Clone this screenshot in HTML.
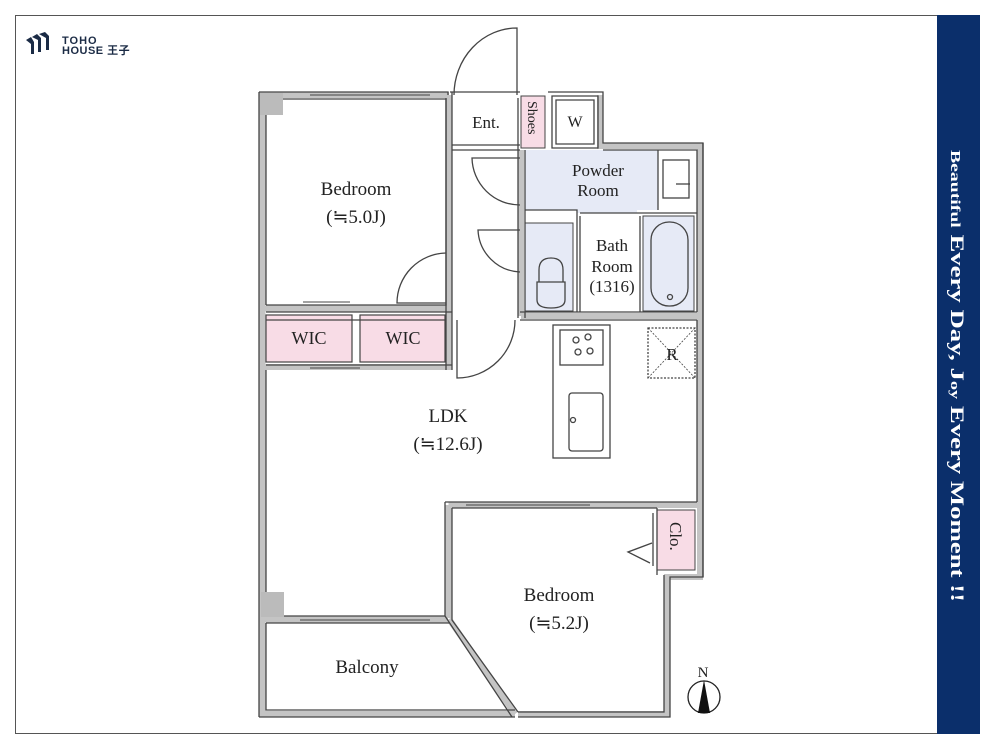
<!DOCTYPE html>
<html><head><meta charset="utf-8"><style>
html,body{margin:0;padding:0;background:#fff;}
svg{display:block}
text{font-family:"Liberation Serif",serif;fill:#222}
</style></head><body>
<svg width="1000" height="750" viewBox="0 0 1000 750" xmlns="http://www.w3.org/2000/svg">
<rect x="0" y="0" width="1000" height="750" fill="#fff"/>
<rect x="15.5" y="15.5" width="922" height="718" fill="none" stroke="#555" stroke-width="1"/>
<rect x="937" y="15" width="43" height="719" fill="#0b2f6b"/>
<text transform="translate(951,150) rotate(90)" textLength="452" lengthAdjust="spacingAndGlyphs" style="fill:#fff;font-weight:bold;font-size:19px"><tspan font-size="14">Beautiful</tspan>  Every Day, J<tspan font-size="13">oy</tspan> Every Moment !!</text>
<!-- logo -->
<g fill="#1b2b45">
<path d="M26 40 l5 -3 l3 5 l0 12 l-3 0 l0 -10z"/>
<path d="M32 37 l5 -3 l4 4 l0 14 l-3 0 l0 -12z"/>
<path d="M39 34 l6 -2 l4 4 l0 14 l-3 0 l0 -12z"/>
</g>
<text x="62" y="44" style="font-family:'Liberation Sans',sans-serif;font-size:11px;fill:#1b2b45;font-weight:bold;letter-spacing:1px">TOHO</text>
<text x="62" y="54" style="font-family:'Liberation Sans','Noto Sans CJK JP',sans-serif;font-size:11px;fill:#1b2b45;font-weight:bold;letter-spacing:0.5px">HOUSE 王子</text>

<!-- thick gray walls -->
<g fill="none" stroke="#c4c4c4" stroke-width="6">
<path d="M262.5 92 V714 H515 M518 714 H667 V577 H700 V146 H600 V95 M449 95 V370 M521 150 V316 M263 308.5 H449 M263 367 H449 M521 316 H700 M448.5 505 H700 M448.5 505 V618 M263 619.5 H448 M449 619 L515 714 M262.5 95 H449"/>
</g>
<!-- fills -->
<g>
<rect x="266" y="315" width="86" height="47" fill="#f8dce6" stroke="#444" stroke-width="1.2"/>
<rect x="360" y="315" width="85" height="47" fill="#f8dce6" stroke="#444" stroke-width="1.2"/>
<rect x="521" y="96" width="24" height="52" fill="#f8dce6" stroke="#444" stroke-width="1"/>
<rect x="525" y="150" width="133" height="60" fill="#e6eaf6"/>
<rect x="577" y="205" width="60" height="8" fill="#e6eaf6"/>
<rect x="525" y="223" width="48" height="88" fill="#e6eaf6" stroke="#444" stroke-width="1"/>
<rect x="643" y="216" width="51" height="95" fill="#e6eaf6" stroke="#444" stroke-width="1"/>
<rect x="657" y="510" width="38" height="60" fill="#f8dce6" stroke="#444" stroke-width="1"/>
</g>

<!-- walls -->
<g fill="none" stroke="#444" stroke-width="1.3">
<path d="M259 92 H448 V95 M450 92 H520 M548 92 H603 V143 H703 V577 H670 V717 H518 M515 717 H259 Z" />
<path d="M259 92 V717"/>
<path d="M266 99 V305 M266 370 V616 M266 623 V710 H515"/>
<path d="M266 99 H446 V305 H266"/>
<path d="M266 312 H452 M266 365 H452"/>
<path d="M446 98 V370 M452 92 V370"/>
<path d="M452 145 H520 M452 150 H520"/>
<path d="M518 98 V318 M525 150 V318"/>
<path d="M552 96 H598 V148 H552 Z M556 100 H594 V144 H556 Z"/>
<path d="M603 150 H697 V312 M658 150 V210 M525 210 H577 V312 M580 216 V312 M640 216 V312 M580 213 H697"/>
<path d="M520 312 H697 M520 320 H697"/>
<path d="M697 320 V502 M703 143 V577"/>
<path d="M266 320 H446"/>
<path d="M445 502 H697 M452 508 H657 M445 502 V616 M452 508 V620 L518 712 M445 616 L512 717"/>
<path d="M266 616 H445 M266 623 H450"/>
<path d="M657 508 V575 M664 575 V712 H518"/>
<rect x="663" y="160" width="26" height="38"/>
<path d="M676 184 H690"/>
<rect x="553" y="325" width="57" height="133"/>
<rect x="560" y="330" width="43" height="35"/>
<rect x="569" y="393" width="34" height="58" rx="3"/>
<circle cx="573" cy="420" r="2.5"/>
<circle cx="576" cy="340" r="3"/><circle cx="588" cy="337" r="3"/><circle cx="590" cy="351" r="3"/><circle cx="578" cy="352" r="3"/>
<rect x="648" y="328" width="47" height="50" stroke-dasharray="2 1.5"/>
<path d="M648 328 L695 378 M695 328 L648 378" stroke-dasharray="2 1.5" stroke-width="0.8"/>
<rect x="651" y="222" width="37" height="84" rx="18"/>
<circle cx="670" cy="297" r="2.5"/>
<path d="M537 300 V282 H565 V300 Q565 308 551 308 Q537 308 537 300Z M539 282 V270 Q539 258 551 258 Q563 258 563 270 V282"/>
<!-- doors -->
<path d="M517 95 V28 A63 67 0 0 0 454 95"/>
<path d="M520 158 H472 A48 48 0 0 0 520 205"/>
<path d="M520 230 H478 A44 44 0 0 0 520 272"/>
<path d="M446 253 A50 50 0 0 0 397 303 H446"/>
<path d="M457 320 V378 A58 58 0 0 0 515 320"/>
<path d="M653 513 V566 M652 543 L628 552 L650 563"/>
</g>
<!-- gray corners -->
<rect x="260" y="93" width="23" height="22" fill="#bbb"/>
<rect x="261" y="592" width="23" height="25" fill="#bbb"/>
<!-- windows hints -->
<g stroke="#444" stroke-width="1">
<path d="M310 95 H430 M303 302 H350 M310 368 H360 M466 505 H590 M300 620 H430"/>
</g>
<!-- labels -->
<g font-size="19" text-anchor="middle">
<text x="356" y="195">Bedroom</text>
<text x="356" y="223">(≒5.0J)</text>
<text x="309" y="344" font-size="18">WIC</text>
<text x="403" y="344" font-size="18">WIC</text>
<text x="486" y="128" font-size="17">Ent.</text>
<text x="598" y="176" font-size="17">Powder</text>
<text x="598" y="196" font-size="17">Room</text>
<text x="612" y="251" font-size="17">Bath</text>
<text x="612" y="272" font-size="17">Room</text>
<text x="612" y="292" font-size="17">(1316)</text>
<text x="575" y="127" font-size="16">W</text>
<text x="672" y="360" font-size="17">R</text>
<text x="448" y="422">LDK</text>
<text x="448" y="450">(≒12.6J)</text>
<text x="559" y="601">Bedroom</text>
<text x="559" y="629">(≒5.2J)</text>
<text x="367" y="673">Balcony</text>
<text x="703" y="677" font-size="15">N</text>
</g>
<text transform="translate(528,101) rotate(90)" font-size="14">Shoes</text>
<text transform="translate(670,522) rotate(90)" font-size="17">Clo.</text>
<circle cx="704" cy="697" r="16" fill="none" stroke="#222" stroke-width="1.3"/>
<path d="M704 680 L698 713 L710 713 Z" fill="#111"/>
</svg>
</body></html>
